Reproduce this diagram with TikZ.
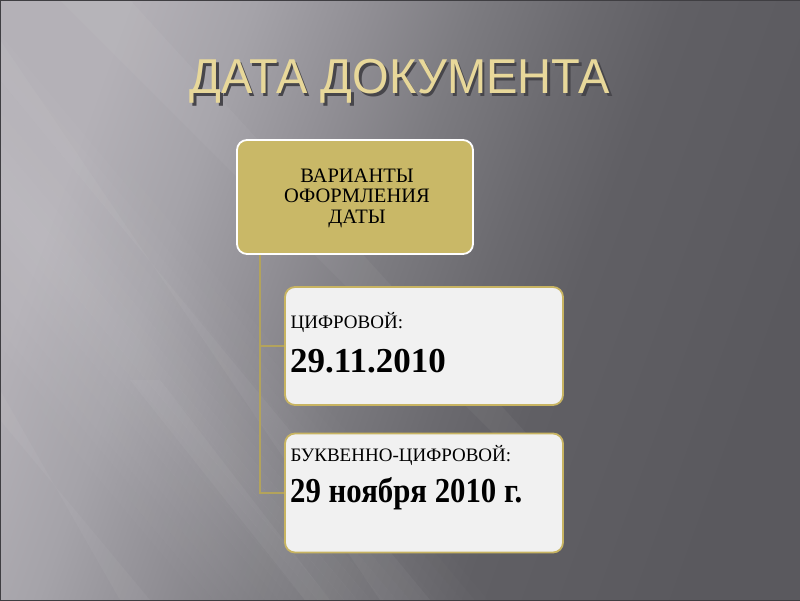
\documentclass[tikz,border=0pt]{standalone}
\usepackage{graphicx}
\usepackage{fontspec}
\setmainfont{Liberation Serif}
\newfontfamily\titlefont{Liberation Sans}
\definecolor{bgA}{HTML}{B4B1B7}
\definecolor{bgB}{HTML}{A5A3A9}
\definecolor{bgC}{HTML}{918F95}
\definecolor{bgD}{HTML}{7C7B80}
\definecolor{bgE}{HTML}{6B6A6F}
\definecolor{bgF}{HTML}{605F64}
\definecolor{bgG}{HTML}{5A595E}
\definecolor{titlegold}{HTML}{E8D89A}
\definecolor{titleshadowc}{HTML}{47464B}
\definecolor{boxgold}{HTML}{C9B867}
\definecolor{boxedge}{HTML}{C8B462}
\definecolor{boxwhite}{HTML}{F1F1F1}
\definecolor{linegold}{HTML}{B3A35C}
\pgfdeclarehorizontalshading{bgshade}{100bp}{color(0bp)=(bgA); color(26bp)=(bgA); color(34bp)=(bgB); color(41bp)=(bgC); color(48bp)=(bgD); color(55bp)=(bgE); color(61bp)=(bgF); color(75bp)=(bgG); color(100bp)=(bgG)}
\tikzset{
  topbox/.style={draw=white, line width=1.8pt, rounded corners=10pt, fill=boxgold,
    minimum width=236pt, minimum height=114pt, inner sep=0pt},
  subbox/.style={draw=boxedge, line width=1.8pt, rounded corners=10pt, fill=boxwhite,
    minimum width=278pt, minimum height=118pt, inner sep=0pt},
  conn/.style={draw=linegold, line width=1.3pt},
  smalltxt/.style={anchor=base west, inner sep=0pt, font=\fontsize{19}{19}\selectfont},
  bigtxt/.style={anchor=base west, inner sep=0pt, font=\bfseries\fontsize{35}{35}\selectfont},
  streak/.style={fill=white, opacity=0.04}
}
\begin{document}
\begin{tikzpicture}[x=1pt,y=-1pt]
\useasboundingbox (0,0) rectangle (800,600);
% background
\begin{scope}
\clip (0,0) rectangle (800,600);
\shade[shading=bgshade, shading angle=-20] (0,0) rectangle (800,600);
\begin{scope}[shift={(0,190)}, rotate=-50]
\foreach \d [evaluate=\d as \op using {0.09*(1-abs(\d+5)/120)}] in {-120,-110,...,110}
  \fill[white, opacity=\op] (-300,\d) rectangle (900,\d+10);
\end{scope}
\fill[streak] (0,40) -- (0,80) -- (430,600) -- (380,600) -- cycle;
\fill[streak] (0,390) -- (0,420) -- (150,600) -- (120,600) -- cycle;
\fill[streak] (60,0) -- (130,0) -- (560,470) -- (530,470) -- cycle;
\fill[streak] (130,380) -- (160,380) -- (330,600) -- (305,600) -- cycle;
\end{scope}
\draw[color=bgG!70!black, line width=1pt] (0,0) rectangle (800,600);
% title
\node[anchor=base, inner sep=0pt, font=\titlefont\fontsize{49}{49}\selectfont] (title) at (400,93)
  {\scalebox{0.96}[1]{\rlap{\kern2.5pt\raisebox{-3pt}{\textcolor{titleshadowc}{ДАТА ДОКУМЕНТА}}}\textcolor{titlegold}{ДАТА ДОКУМЕНТА}}};
% boxes
\node[topbox] (box1) at (355,197) {};
\node[align=center, inner sep=0pt, font=\fontsize{20.5}{20.5}\selectfont] (box1text) at (357,198) {ВАРИАНТЫ\\ОФОРМЛЕНИЯ\\ДАТЫ};
\node[subbox] (box2) at (424,346) {};
\node[subbox, minimum height=119pt] (box3) at (424,493) {};
% connectors
\path (box1.south west) ++(24,0) coordinate (spine);
\draw[conn] (spine) |- (box2.west);
\draw[conn] (spine) |- (box3.west);
% texts
\node[smalltxt] (l2a) at (290.5,328) {ЦИФРОВОЙ:};
\node[bigtxt] (l2b) at (290,372) {29.11.2010};
\node[smalltxt] (l3a) at (290.5,461.5) {БУКВЕННО-ЦИФРОВОЙ:};
\node[bigtxt] (l3b) at (290,502) {\scalebox{0.88}[1]{29 ноября 2010 г.}};
\end{tikzpicture}
\end{document}
